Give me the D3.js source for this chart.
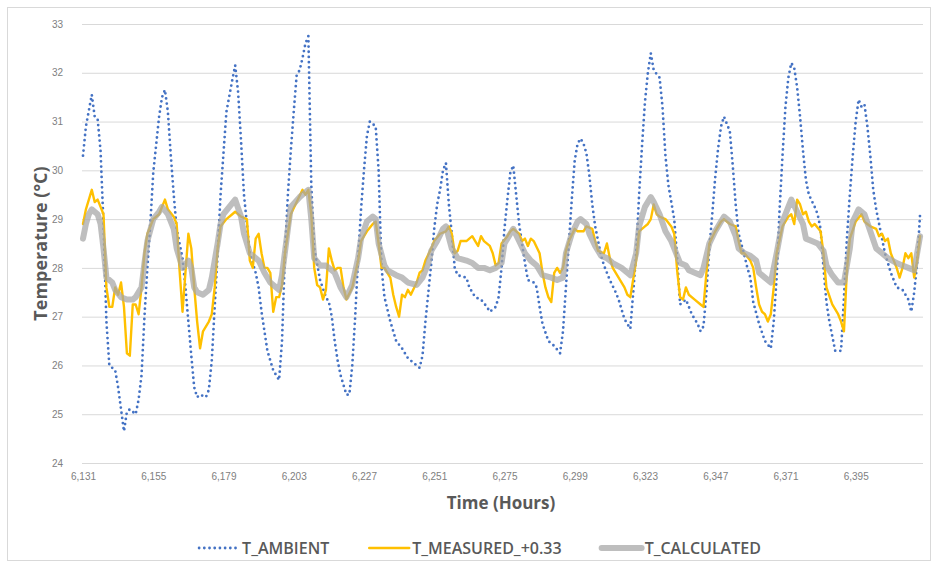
<!DOCTYPE html>
<html>
<head>
<meta charset="utf-8">
<script src="https://cdn.jsdelivr.net/npm/d3@7"></script>
<style>
  html, body { margin: 0; padding: 0; background: #fff; }
  svg { display: block; font-family: "Open Sans", "Noto Sans", sans-serif; }
</style>
</head>
<body>
<svg id="chart" width="938" height="564"></svg>
<script>
// hour, temperature (°C)
const ambient = [[6131,30.3],[6132,30.9],[6134,31.55],[6135,31.1],[6136,31.05],[6137,30.4],[6138,28.9],[6139,26.9],[6140,26.0],[6142,25.9],[6143,25.55],[6144,25.1],[6145,24.65],[6146,25.05],[6147,25.1],[6149,25.0],[6150,25.3],[6151,25.8],[6152,27.0],[6153,28.0],[6154,28.9],[6155,29.95],[6157,31.1],[6158,31.5],[6159,31.65],[6160,31.2],[6161,30.3],[6162,29.5],[6163,28.8],[6165,28.2],[6166,27.6],[6167,26.9],[6168,26.2],[6169,25.55],[6170,25.35],[6171,25.4],[6173,25.35],[6174,25.5],[6175,26.1],[6176,27.2],[6177,28.3],[6178,29.5],[6179,30.35],[6180,31.2],[6182,31.85],[6183,32.15],[6184,31.6],[6185,30.6],[6186,29.5],[6188,28.3],[6190,27.9],[6191,27.6],[6192,27.1],[6193,26.7],[6194,26.3],[6196,25.9],[6198,25.7],[6199,26.5],[6200,28.3],[6201,29.5],[6202,30.4],[6203,31.2],[6204,31.95],[6205,32.05],[6206,32.3],[6207,32.6],[6208,32.75],[6209,29.7],[6210,28.4],[6212,27.75],[6214,27.4],[6215,27.3],[6216,27.0],[6217,26.5],[6218,26.1],[6219,25.8],[6221,25.4],[6222,25.4],[6223,26.0],[6224,27.0],[6225,28.2],[6226,29.2],[6227,30.0],[6228,30.7],[6229,31.0],[6231,30.9],[6232,30.0],[6233,28.0],[6234,27.4],[6236,26.9],[6238,26.5],[6240,26.35],[6242,26.15],[6244,26.05],[6246,25.95],[6247,26.2],[6248,26.9],[6249,27.5],[6250,28.1],[6251,28.8],[6252,29.3],[6253,29.6],[6254,30.0],[6255,30.15],[6256,29.3],[6257,28.7],[6258,28.0],[6259,27.85],[6262,27.8],[6263,27.6],[6265,27.4],[6267,27.35],[6269,27.2],[6270,27.1],[6272,27.2],[6273,27.4],[6274,28.0],[6275,28.8],[6276,29.4],[6277,29.95],[6278,30.1],[6279,29.5],[6280,28.9],[6281,28.5],[6282,28.1],[6283,27.75],[6285,27.7],[6286,27.6],[6287,27.2],[6288,26.85],[6290,26.5],[6292,26.4],[6294,26.25],[6295,26.7],[6296,27.6],[6297,28.5],[6298,29.4],[6299,30.2],[6300,30.55],[6301,30.65],[6302,30.55],[6303,30.35],[6304,29.9],[6305,29.3],[6306,28.85],[6308,28.25],[6309,28.05],[6311,27.75],[6313,27.5],[6314,27.35],[6316,26.95],[6318,26.75],[6319,27.5],[6320,28.3],[6321,29.5],[6322,30.5],[6323,31.4],[6324,32.0],[6325,32.4],[6326,32.05],[6328,31.9],[6329,31.3],[6330,30.3],[6331,29.7],[6333,29.0],[6334,28.2],[6335,27.25],[6337,27.35],[6339,27.05],[6341,26.85],[6342,26.7],[6343,26.8],[6344,27.5],[6345,28.4],[6346,29.1],[6347,29.85],[6348,30.45],[6349,30.9],[6350,31.1],[6352,30.8],[6353,30.1],[6354,29.3],[6355,28.7],[6357,28.25],[6358,28.0],[6359,27.8],[6360,27.3],[6362,26.85],[6364,26.5],[6366,26.35],[6367,26.9],[6368,27.8],[6369,29.2],[6370,30.3],[6371,31.3],[6372,31.9],[6373,32.2],[6374,32.1],[6375,31.7],[6376,31.1],[6377,30.4],[6378,29.8],[6379,29.5],[6381,29.25],[6382,29.1],[6383,28.8],[6384,28.0],[6385,27.3],[6386,26.9],[6387,26.6],[6388,26.3],[6390,26.3],[6391,27.4],[6392,28.6],[6393,29.5],[6394,30.3],[6395,31.0],[6396,31.45],[6397,31.3],[6398,31.35],[6399,30.9],[6400,30.3],[6401,29.6],[6402,29.2],[6403,28.9],[6405,28.3],[6407,27.9],[6409,27.6],[6411,27.55],[6413,27.35],[6414,27.1],[6415,27.5],[6416,28.1],[6417,29.1]];

const measured = [[6131,28.9],[6132,29.2],[6134,29.6],[6135,29.35],[6136,29.4],[6137,29.25],[6138,29.1],[6139,27.6],[6140,27.2],[6141,27.2],[6142,27.6],[6143,27.45],[6144,27.7],[6145,27.2],[6146,26.25],[6147,26.2],[6148,27.25],[6149,27.25],[6150,27.05],[6151,27.6],[6152,28.3],[6153,28.7],[6155,29.0],[6157,29.1],[6159,29.4],[6160,29.2],[6162,29.05],[6163,28.9],[6164,27.95],[6165,27.1],[6166,27.9],[6167,28.7],[6168,28.4],[6169,27.6],[6170,26.9],[6171,26.35],[6172,26.7],[6174,26.9],[6175,27.05],[6176,27.6],[6177,28.4],[6178,28.85],[6180,29.0],[6182,29.1],[6183,29.15],[6185,29.05],[6187,29.0],[6188,28.15],[6189,28.0],[6190,28.6],[6191,28.7],[6192,28.3],[6193,28.0],[6194,28.0],[6195,27.9],[6196,27.1],[6197,27.4],[6198,27.4],[6199,27.65],[6200,28.3],[6201,28.7],[6202,29.1],[6204,29.35],[6206,29.6],[6207,29.5],[6208,29.6],[6209,29.1],[6210,28.0],[6211,27.65],[6212,27.6],[6213,27.35],[6214,27.55],[6215,28.4],[6216,28.15],[6217,27.95],[6218,28.0],[6219,28.0],[6220,27.6],[6221,27.35],[6223,27.6],[6225,28.15],[6226,28.55],[6228,28.75],[6230,28.9],[6231,28.95],[6232,28.5],[6233,28.0],[6234,28.0],[6235,27.9],[6236,27.8],[6237,27.45],[6238,27.2],[6239,27.0],[6240,27.45],[6241,27.4],[6242,27.55],[6243,27.45],[6245,27.7],[6246,27.9],[6247,27.95],[6248,28.15],[6250,28.4],[6251,28.55],[6253,28.7],[6255,28.75],[6256,28.85],[6257,28.7],[6258,28.3],[6259,28.35],[6260,28.55],[6262,28.55],[6263,28.6],[6264,28.65],[6265,28.55],[6266,28.45],[6267,28.65],[6268,28.55],[6270,28.45],[6271,28.3],[6272,28.05],[6273,28.1],[6274,28.5],[6276,28.65],[6277,28.75],[6278,28.8],[6280,28.7],[6281,28.55],[6282,28.6],[6283,28.45],[6284,28.6],[6285,28.55],[6287,28.3],[6288,27.9],[6289,27.6],[6290,27.4],[6291,27.3],[6292,27.9],[6293,28.0],[6294,27.9],[6295,28.0],[6296,28.35],[6297,28.55],[6299,28.8],[6300,28.75],[6302,28.75],[6303,28.85],[6305,28.8],[6306,28.55],[6307,28.35],[6309,28.3],[6310,28.5],[6311,28.2],[6312,28.0],[6314,27.8],[6316,27.6],[6317,27.45],[6318,27.4],[6320,28.15],[6321,28.75],[6323,28.85],[6324,28.9],[6325,29.0],[6326,29.3],[6327,29.1],[6328,29.05],[6330,29.0],[6332,28.85],[6333,28.7],[6334,27.95],[6335,27.4],[6336,27.35],[6337,27.6],[6338,27.45],[6340,27.35],[6342,27.25],[6343,27.2],[6344,27.9],[6345,28.5],[6347,28.75],[6349,28.95],[6350,29.0],[6352,28.9],[6354,28.85],[6355,28.55],[6356,28.3],[6357,28.3],[6359,28.15],[6360,28.0],[6361,27.6],[6362,27.25],[6363,27.1],[6364,27.05],[6365,26.9],[6366,27.05],[6367,27.6],[6368,28.3],[6370,28.85],[6372,29.05],[6373,29.1],[6374,28.9],[6375,29.4],[6376,29.3],[6377,29.1],[6378,29.15],[6379,28.95],[6380,28.85],[6381,28.9],[6383,28.75],[6384,28.3],[6385,27.6],[6387,27.25],[6389,27.05],[6390,26.9],[6391,26.7],[6392,27.95],[6393,28.6],[6395,28.95],[6397,29.1],[6398,28.95],[6399,28.9],[6400,28.85],[6402,28.8],[6403,28.65],[6404,28.7],[6405,28.55],[6406,28.6],[6407,28.3],[6409,28.0],[6410,27.8],[6411,28.0],[6412,28.3],[6413,28.2],[6414,28.3],[6415,27.8],[6416,28.15],[6417,28.65]];

const calculated = [[6131,28.6],[6132,28.9],[6133,29.1],[6134,29.2],[6136,29.1],[6137,28.9],[6138,28.4],[6139,27.8],[6141,27.7],[6142,27.55],[6144,27.4],[6146,27.35],[6148,27.35],[6149,27.4],[6151,27.6],[6152,28.1],[6153,28.55],[6155,29.0],[6157,29.15],[6158,29.25],[6160,29.1],[6162,28.8],[6163,28.4],[6165,28.0],[6167,28.15],[6168,28.0],[6169,27.6],[6170,27.5],[6172,27.45],[6174,27.55],[6175,27.8],[6177,28.5],[6178,28.9],[6179,29.1],[6181,29.25],[6183,29.4],[6185,29.05],[6186,28.7],[6188,28.3],[6191,28.15],[6193,27.9],[6195,27.7],[6198,27.55],[6199,27.85],[6201,28.8],[6202,29.25],[6205,29.45],[6207,29.55],[6208,29.6],[6209,29.0],[6210,28.2],[6212,28.05],[6214,28.05],[6217,27.9],[6219,27.6],[6221,27.4],[6223,27.65],[6225,28.2],[6226,28.6],[6228,28.95],[6230,29.05],[6231,29.0],[6232,28.5],[6234,28.05],[6235,27.95],[6238,27.85],[6240,27.8],[6242,27.7],[6245,27.65],[6247,27.8],[6249,28.1],[6250,28.35],[6252,28.55],[6254,28.8],[6255,28.85],[6257,28.4],[6258,28.3],[6259,28.2],[6262,28.15],[6264,28.1],[6266,28.0],[6268,28.0],[6270,27.95],[6272,28.0],[6274,28.1],[6275,28.5],[6277,28.7],[6278,28.8],[6280,28.55],[6282,28.3],[6284,28.15],[6286,28.05],[6288,27.85],[6291,27.8],[6293,27.75],[6295,27.8],[6296,28.3],[6298,28.7],[6300,28.95],[6301,29.0],[6303,28.9],[6304,28.7],[6306,28.45],[6308,28.25],[6310,28.2],[6312,28.1],[6315,28.0],[6317,27.9],[6318,27.85],[6320,28.3],[6321,28.85],[6323,29.25],[6325,29.45],[6326,29.35],[6328,29.1],[6330,28.75],[6332,28.55],[6333,28.4],[6335,28.1],[6337,28.05],[6338,27.95],[6340,27.9],[6342,27.85],[6343,28.0],[6345,28.5],[6347,28.75],[6349,28.95],[6350,29.05],[6352,28.95],[6354,28.65],[6355,28.4],[6357,28.3],[6359,28.25],[6361,28.15],[6362,27.9],[6364,27.8],[6366,27.7],[6368,28.3],[6370,28.95],[6372,29.25],[6373,29.4],[6375,29.15],[6377,28.9],[6378,28.6],[6380,28.55],[6382,28.5],[6384,28.35],[6385,28.05],[6387,27.85],[6389,27.7],[6391,27.7],[6393,28.4],[6394,28.95],[6396,29.2],[6398,29.1],[6400,28.75],[6402,28.4],[6404,28.3],[6406,28.2],[6409,28.1],[6411,28.05],[6413,28.0],[6415,27.95],[6416,28.3],[6417,28.65]];

const hourTicks = [6131, 6155, 6179, 6203, 6227, 6251, 6275, 6299, 6323, 6347, 6371, 6395];
const tempTicks = [24, 25, 26, 27, 28, 29, 30, 31, 32, 33];
const seriesNames = ["T_AMBIENT", "T_MEASURED_+0.33", "T_CALCULATED"];

const svg = d3.select("#chart");
const plot = { left: 82, right: 923, top: 24, bottom: 463 };

const x = d3.scaleLinear().domain([6131, 6418]).range([plot.left + 1, plot.right]);
const y = d3.scaleLinear().domain([24, 33]).range([plot.bottom, plot.top]);

// chart area border
svg.append("rect")
  .attr("x", 7.5).attr("y", 7.5)
  .attr("width", 923).attr("height", 553)
  .attr("fill", "none")
  .attr("stroke", "#d9d9d9");

// gridlines + y labels
const yAxis = svg.append("g")
  .attr("transform", `translate(${plot.left},0)`)
  .call(d3.axisLeft(y).tickValues(tempTicks).tickSize(-(plot.right - plot.left)).tickPadding(19).tickFormat(d3.format("d")));
yAxis.select(".domain").remove();
yAxis.selectAll("line").attr("stroke", "#d9d9d9").attr("stroke-width", 1);
yAxis.selectAll("text").attr("fill", "#808080").attr("font-size", 10);

const xAxis = svg.append("g")
  .attr("transform", `translate(0,${plot.bottom})`)
  .call(d3.axisBottom(x).tickValues(hourTicks).tickSize(0).tickPadding(10).tickFormat(d3.format(",")));
xAxis.select(".domain").remove();
xAxis.selectAll("text").attr("fill", "#808080").attr("font-size", 10);

// series
const line = d3.line().x((d) => x(d[0])).y((d) => y(d[1]));

const styles = [
  { data: ambient, color: "#4472C4", width: 2.8, dash: "0 5.2", cap: "round", opacity: 1 },
  { data: measured, color: "#FFC000", width: 2.4, dash: null, cap: "round", opacity: 1 },
  { data: calculated, color: "#A5A5A5", width: 6, dash: null, cap: "round", opacity: 0.72 },
];

const seriesGroup = svg.append("g");
styles.forEach((s) => {
  seriesGroup.append("path")
    .datum(s.data)
    .attr("d", line)
    .attr("fill", "none")
    .attr("stroke", s.color)
    .attr("stroke-width", s.width)
    .attr("stroke-linecap", s.cap)
    .attr("stroke-linejoin", "round")
    .attr("stroke-dasharray", s.dash)
    .attr("stroke-opacity", s.opacity);
});

// axis titles
svg.append("text")
  .attr("transform", `translate(47,${(plot.top + plot.bottom) / 2}) rotate(-90)`)
  .attr("text-anchor", "middle")
  .attr("fill", "#595959")
  .attr("font-size", 18)
  .attr("font-weight", 700)
  .text("Temperature (°C)");

svg.append("text")
  .attr("x", 501)
  .attr("y", 509)
  .attr("text-anchor", "middle")
  .attr("fill", "#595959")
  .attr("font-size", 17)
  .attr("font-weight", 700)
  .text("Time (Hours)");

// legend
const legend = svg.append("g").attr("transform", "translate(0,548)");
const items = legend.selectAll("g").data(styles).join("g");
items.append("line")
  .attr("x1", 0).attr("x2", 40)
  .attr("stroke", (d) => d.color)
  .attr("stroke-width", (d) => d.width)
  .attr("stroke-linecap", (d) => d.cap)
  .attr("stroke-dasharray", (d) => d.dash)
  .attr("stroke-opacity", (d) => d.opacity);
items.append("text")
  .attr("x", 43)
  .attr("dy", "0.35em")
  .attr("fill", "#595959")
  .attr("font-size", 16)
  .attr("font-weight", 600)
  .text((d, i) => seriesNames[i]);

const gap = 40;
const widths = items.nodes().map((n) => 43 + d3.select(n).select("text").node().getComputedTextLength());
const total = d3.sum(widths) + gap * (widths.length - 1);
let cursor = 480 - total / 2;
items.attr("transform", (d, i) => {
  const t = `translate(${cursor},0)`;
  cursor += widths[i] + gap;
  return t;
});
</script>
</body>
</html>
